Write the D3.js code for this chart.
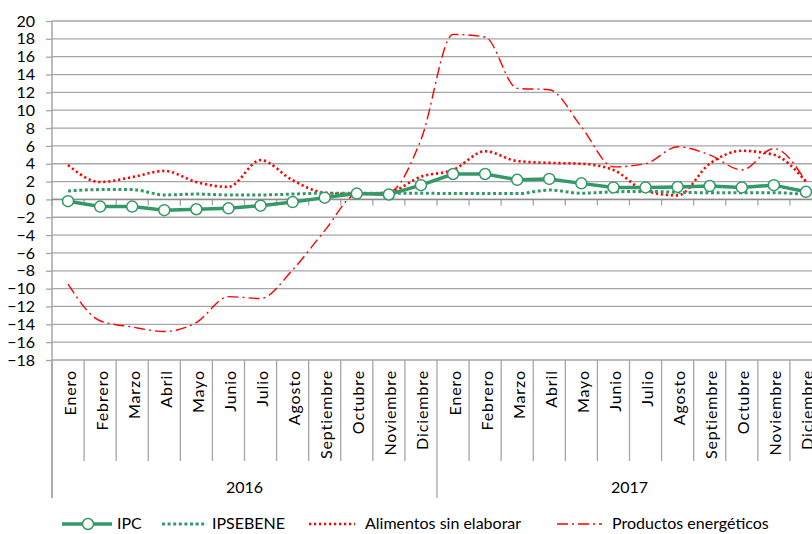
<!DOCTYPE html>
<html>
<head>
<meta charset="utf-8">
<script src="https://cdn.jsdelivr.net/npm/d3@7"></script>
<style>
	body { margin: 0; background: #fff; }
	svg { display: block; font-family: Lato, "Open Sans", sans-serif; }
</style>
</head>
<body>
<div id="chart"></div>
<script>
// data
var years = ["2016", "2017"];
var months = ["Enero", "Febrero", "Marzo", "Abril", "Mayo", "Junio", "Julio",
	"Agosto", "Septiembre", "Octubre", "Noviembre", "Diciembre"];
var yTicks = [20, 18, 16, 14, 12, 10, 8, 6, 4, 2, 0, -2, -4, -6, -8, -10, -12, -14, -16, -18];

var ipc = [-0.2, -0.8, -0.8, -1.2, -1.1, -1.0, -0.7, -0.3, 0.2, 0.65, 0.55, 1.6,
	2.85, 2.85, 2.2, 2.3, 1.8, 1.35, 1.35, 1.4, 1.5, 1.35, 1.6, 0.85];
var ipsebene = [0.95, 1.1, 1.1, 0.5, 0.6, 0.5, 0.5, 0.6, 0.7, 0.7, 0.7, 0.7,
	0.65, 0.65, 0.65, 1.05, 0.7, 0.85, 0.9, 0.8, 0.75, 0.75, 0.75, 0.55];
var alimentos = [3.85, 1.95, 2.5, 3.2, 1.95, 1.4, 4.4, 2.15, 0.75, 0.6, 0.8, 2.55,
	3.3, 5.4, 4.3, 4.1, 4.0, 3.3, 0.95, 0.45, 4.0, 5.45, 5.0, 2.0];
var energeticos = [-9.5, -13.6, -14.3, -14.8, -13.8, -10.9, -11.1, -7.9, -3.5, 0.6, 0.8, 6.7,
	18.5, 18.2, 12.45, 12.3, 8.15, 3.65, 4.0, 5.9, 5.0, 3.3, 5.7, 2.0];

var width = 812;
var height = 534;
var plotLeft = 52;
var plotRight = 822; // the plot runs past the right edge, as in the picture
var plotTop = 21;
var plotBottom = 360;

var green = "#339966";
var red = "#ff0000";
var grid = "#a6a6a6";

// one key per month
var keys = [];
years.forEach(function(yr) {
	months.forEach(function(m) { keys.push(yr + "-" + m); });
});

var x = d3.scaleBand().domain(keys).range([plotLeft, plotRight]).padding(0);
var y = d3.scaleLinear().domain([-18, 20]).range([plotBottom, plotTop]);

var svg = d3.select("#chart").append("svg")
	.attr("width", width)
	.attr("height", height);

// horizontal gridlines
svg.append("g")
	.selectAll("line")
	.data(yTicks)
	.enter()
	.append("line")
	.attr("x1", plotLeft)
	.attr("x2", width)
	.attr("y1", function(d) { return y(d); })
	.attr("y2", function(d) { return y(d); })
	.attr("stroke", grid)
	.attr("stroke-width", 1.3);

// y axis
var yAxis = d3.axisLeft(y).tickValues(yTicks).tickSize(6).tickPadding(11);
var gy = svg.append("g")
	.attr("transform", "translate(" + plotLeft + ",0)")
	.call(yAxis);
gy.select(".domain").remove();
gy.selectAll(".tick line").attr("stroke", grid).attr("stroke-width", 1.3);
gy.selectAll(".tick text")
	.attr("fill", "#000")
	.style("font-size", "16px")
	.style("font-family", "Lato, sans-serif");

svg.append("line")
	.attr("x1", plotLeft).attr("x2", plotLeft)
	.attr("y1", plotTop).attr("y2", 498)
	.attr("stroke", grid)
	.attr("stroke-width", 1.5);

// x axis through zero, ticks at month boundaries
var bounds = d3.range(keys.length + 1).map(function(i) { return plotLeft + i * x.bandwidth(); });
svg.append("g")
	.selectAll("line")
	.data(bounds)
	.enter()
	.append("line")
	.attr("x1", function(d) { return d; })
	.attr("x2", function(d) { return d; })
	.attr("y1", y(0))
	.attr("y2", y(0) + 6)
	.attr("stroke", grid)
	.attr("stroke-width", 1.3);
svg.append("line")
	.attr("x1", plotLeft).attr("x2", width)
	.attr("y1", y(0)).attr("y2", y(0))
	.attr("stroke", "#8c8c8c")
	.attr("stroke-width", 1.5);

// category separators below the plot
svg.append("g")
	.selectAll("line")
	.data(bounds)
	.enter()
	.append("line")
	.attr("x1", function(d) { return d; })
	.attr("x2", function(d) { return d; })
	.attr("y1", plotBottom)
	.attr("y2", function(d, i) { return i % 12 == 0 ? 498 : 461; })
	.attr("stroke", grid)
	.attr("stroke-width", 1.3);

// month labels
svg.append("g")
	.selectAll("text")
	.data(keys)
	.enter()
	.append("text")
	.attr("transform", function(d) {
		return "translate(" + (x(d) + x.bandwidth() / 2 + 1) + ",370) rotate(-90)";
	})
	.attr("text-anchor", "end")
	.attr("dominant-baseline", "central")
	.style("font-size", "16px")
	.style("letter-spacing", "0.9px")
	.text(function(d) { return d.split("-")[1]; });

// year labels
svg.append("g")
	.selectAll("text")
	.data(years)
	.enter()
	.append("text")
	.attr("x", function(d) {
		return (x(d + "-Enero") + x(d + "-Diciembre") + x.bandwidth()) / 2;
	})
	.attr("y", 493)
	.attr("text-anchor", "middle")
	.style("font-size", "16px")
	.text(function(d) { return d; });

// series
var series = [
	{ name: "Productos energéticos", values: energeticos, color: red, width: 1.4, dash: "11,4,2,4", curve: d3.curveMonotoneX },
	{ name: "Alimentos sin elaborar", values: alimentos, color: red, width: 2.6, dash: "2.2,2.8", curve: d3.curveMonotoneX },
	{ name: "IPSEBENE", values: ipsebene, color: green, width: 3, dash: "3,2.6", curve: d3.curveMonotoneX },
	{ name: "IPC", values: ipc, color: green, width: 3.5, dash: null, curve: d3.curveLinear }
];

var plot = svg.append("g");
series.forEach(function(s) {
	var line = d3.line()
		.x(function(d, i) { return x(keys[i]) + x.bandwidth() / 2; })
		.y(function(d) { return y(d); })
		.curve(s.curve);
	plot.append("path")
		.datum(s.values)
		.attr("d", line)
		.attr("fill", "none")
		.attr("stroke", s.color)
		.attr("stroke-width", s.width)
		.attr("stroke-dasharray", s.dash);
});

plot.selectAll("circle")
	.data(ipc)
	.enter()
	.append("circle")
	.attr("cx", function(d, i) { return x(keys[i]) + x.bandwidth() / 2; })
	.attr("cy", function(d) { return y(d); })
	.attr("r", 5.5)
	.attr("fill", "#fff")
	.attr("stroke", green)
	.attr("stroke-width", 1.5);

// legend
var legend = [
	{ name: "IPC", x1: 62, x2: 112, tx: 117, color: green, width: 3.5, dash: null, marker: true },
	{ name: "IPSEBENE", x1: 162, x2: 207, tx: 212, color: green, width: 3, dash: "3,2.6" },
	{ name: "Alimentos sin elaborar", x1: 309, x2: 355, tx: 365, color: red, width: 2.6, dash: "2.2,2.8" },
	{ name: "Productos energéticos", x1: 557, x2: 602, tx: 612, color: red, width: 1.4, dash: "11,4,2,4" }
];
var ly = 524;
var lg = svg.append("g").selectAll("g").data(legend).enter().append("g");
lg.append("line")
	.attr("x1", function(d) { return d.x1; })
	.attr("x2", function(d) { return d.x2; })
	.attr("y1", ly).attr("y2", ly)
	.attr("stroke", function(d) { return d.color; })
	.attr("stroke-width", function(d) { return d.width; })
	.attr("stroke-dasharray", function(d) { return d.dash; });
lg.filter(function(d) { return d.marker; })
	.append("circle")
	.attr("cx", function(d) { return (d.x1 + d.x2) / 2 + 1; })
	.attr("cy", ly)
	.attr("r", 5.5)
	.attr("fill", "#fff")
	.attr("stroke", green)
	.attr("stroke-width", 1.5);
lg.append("text")
	.attr("x", function(d) { return d.tx; })
	.attr("y", ly + 5)
	.style("font-size", "16px")
	.text(function(d) { return d.name; });
</script>
</body>
</html>
